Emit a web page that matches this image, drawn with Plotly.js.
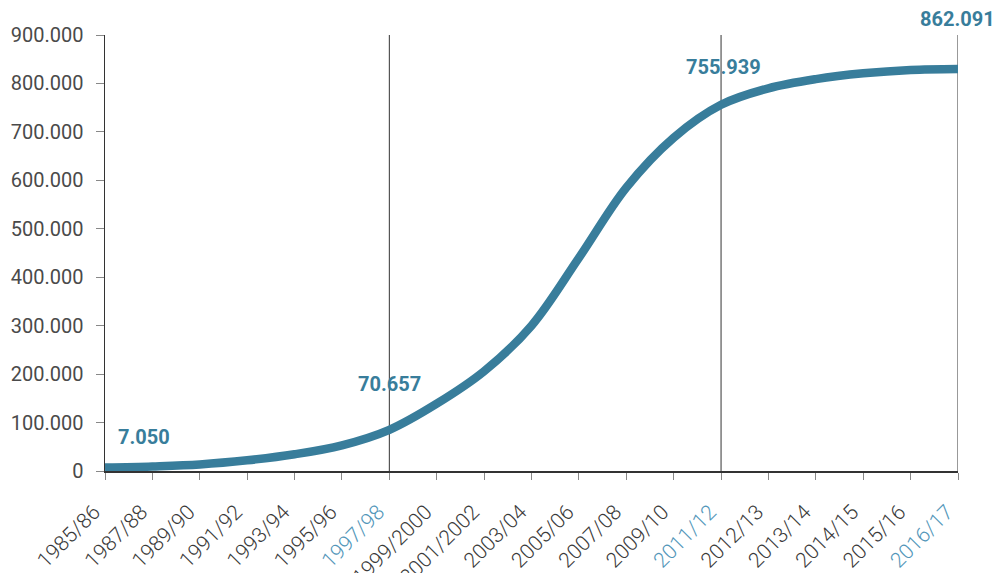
<!DOCTYPE html>
<html>
<head>
<meta charset="utf-8">
<script src="https://cdn.plot.ly/plotly-3.0.1.min.js"></script>
<style>html,body{margin:0;padding:0;background:#fff;}#chart{width:995px;height:573px;}</style>
</head>
<body>
<div id="chart"></div>
<script>
const categories = ["1985/86","1987/88","1989/90","1991/92","1993/94","1995/96","1997/98","1999/2000","2001/2002","2003/04","2005/06","2007/08","2009/10","2011/12","2012/13","2013/14","2014/15","2015/16","2016/17"];
const values = [7050, 9500, 13500, 22000, 34500, 53000, 85000, 139000, 206000, 300000, 440000, 585000, 688000, 755939, 790000, 809000, 821000, 828000, 830000];
const highlighted = ["1997/98","2011/12","2016/17"];
const labelCats = ["1985/86","1997/98","2011/12","2016/17"];
const labelTexts = ["7.050","70.657","755.939","862.091"];
const yTicks = [0,100000,200000,300000,400000,500000,600000,700000,800000,900000];

const blue = "rgb(56,125,155)";
const lightBlue = "rgb(82,150,185)";

const tickText = categories.map(c => highlighted.includes(c)
  ? '<span style="color:' + lightBlue + '">' + c + '</span>' : c);

const labelStyle = {
  "1985/86": {xanchor:"left", xshift:11, yshift:31},
  "1997/98": {xanchor:"center", xshift:0, yshift:46},
  "2011/12": {xanchor:"center", xshift:2, yshift:38},
  "2016/17": {xanchor:"center", xshift:-1, yshift:50}
};

const annotations = labelCats.map((c, i) => {
  const idx = categories.indexOf(c);
  const s = labelStyle[c];
  return {
    x: c, y: values[idx], xref: "x", yref: "y",
    text: "<b>" + labelTexts[i] + "</b>",
    showarrow: false, xanchor: s.xanchor, yanchor: "middle",
    xshift: s.xshift, yshift: s.yshift,
    font: {family: "Roboto", size: 20, color: blue}
  };
});

const shapes = highlighted.map(c => ({
  type: "line", xref: "x", yref: "y", x0: c, x1: c, y0: 0, y1: 900000,
  line: {color: "#333", width: 1}, layer: "below"
}));

const trace = {
  x: categories, y: values, type: "scatter", mode: "lines",
  line: {color: blue, width: 8.5, shape: "spline", smoothing: 1},
  hoverinfo: "skip", cliponaxis: false
};

const layout = {
  width: 995, height: 573,
  margin: {l: 105, r: 37, t: 35, b: 102},
  separators: ",.",
  paper_bgcolor: "#fff", plot_bgcolor: "#fff",
  showlegend: false,
  font: {family: "Roboto", color: "#444"},
  xaxis: {
    type: "category", range: [0, 18],
    tickmode: "array", tickvals: categories, ticktext: tickText,
    tickangle: -45, ticks: "outside", ticklen: 7, tickcolor: "#888", tickwidth: 1,
    showline: true, linecolor: "#333", linewidth: 1.5,
    showgrid: false, zeroline: false,
    tickfont: {family: "Roboto", size: 21, weight: 300, color: "#3a3a3a"},
    ticklabelshift: -11, ticklabelstandoff: 12
  },
  yaxis: {
    range: [0, 900000], tickmode: "array", tickvals: yTicks,
    tickformat: ",.0f",
    ticks: "outside", ticklen: 8, tickcolor: "#888", tickwidth: 1,
    showline: true, linecolor: "#333", linewidth: 1.5,
    showgrid: false, zeroline: false,
    tickfont: {family: "Roboto", size: 20, color: "#4a4a4a"},
    ticklabelstandoff: 8
  },
  shapes: shapes,
  annotations: annotations
};

Plotly.newPlot("chart", [trace], layout, {displayModeBar: false, staticPlot: true});
</script>
</body>
</html>
